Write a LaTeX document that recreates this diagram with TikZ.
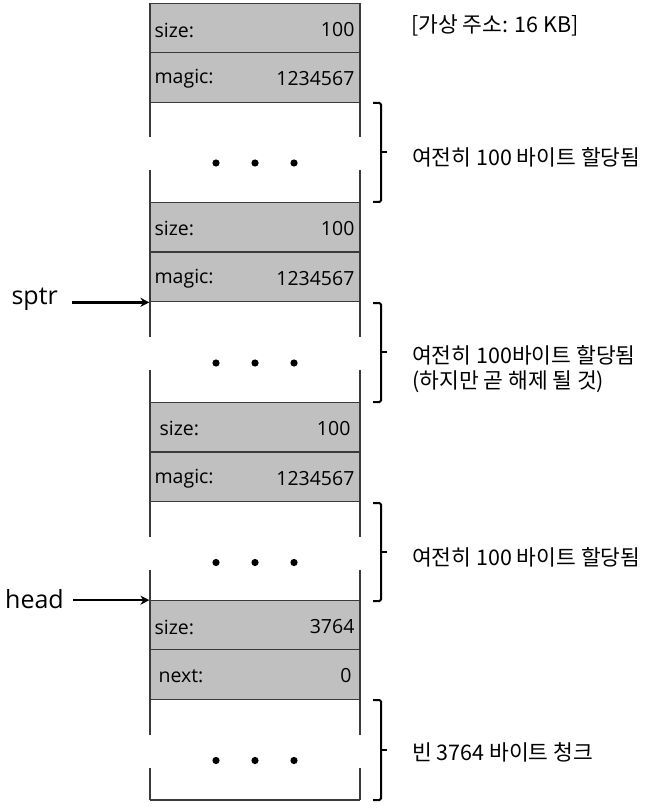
\documentclass[tikz,border=0pt]{standalone}
\usepackage{fontspec}
\setmainfont{Open Sans}
\newfontfamily\kofont{Noto Sans CJK KR}
\usetikzlibrary{positioning, arrows.meta}
\definecolor{cellgray}{HTML}{C0C0C0}
\definecolor{linegray}{HTML}{3A3A3A}

\begin{document}
\begin{tikzpicture}[
        x=1pt, y=-1pt,
        field/.style={rectangle, draw=linegray, line width=1.2pt, fill=cellgray, minimum width=210pt, minimum height=49.5pt, inner sep=0pt},
        key/.style={right, inner sep=0pt, yshift=-1.5pt, font=\fontsize{19.5}{22}\selectfont},
        val/.style={left, inner sep=0pt, yshift=-1.5pt, font=\fontsize{19.5}{22}\selectfont},
        note/.style={right, inner sep=0pt, align=left, font=\kofont\fontsize{21.5}{25}\selectfont},
        ptr/.style={left, inner sep=0pt, font=\fontsize{25}{28}\selectfont},
        arrow/.style={line width=2.6pt, -{Stealth[length=9pt, width=9pt]}},
        brace/.style={line width=2pt, rounded corners=1.5pt}
    ]
    \useasboundingbox (0,0) rectangle (651,810);

    % header of first chunk
    \node [field] (sz1) at (255,28.5) {};
    \node [key] (sz1k) at ([xshift=5pt]sz1.west) {size:};
    \node [val] (sz1v) at ([xshift=-6pt]sz1.east) {100};
    \node [field] (mg1) at (255,77.5) {};
    \node [key] (mg1k) at ([xshift=5pt]mg1.west) {magic:};
    \node [val] (mg1v) at ([xshift=-6pt]mg1.east) {1234567};

    % header of second chunk
    \node [field] (sz2) at (255,227) {};
    \node [key] (sz2k) at ([xshift=5pt]sz2.west) {size:};
    \node [val] (sz2v) at ([xshift=-6pt]sz2.east) {100};
    \node [field] (mg2) at (255,277) {};
    \node [key] (mg2k) at ([xshift=5pt]mg2.west) {magic:};
    \node [val] (mg2v) at ([xshift=-6pt]mg2.east) {1234567};

    % header of third chunk
    \node [field] (sz3) at (255,427) {};
    \node [key] (sz3k) at ([xshift=10pt]sz3.west) {size:};
    \node [val] (sz3v) at ([xshift=-10pt]sz3.east) {100};
    \node [field] (mg3) at (255,477) {};
    \node [key] (mg3k) at ([xshift=5pt]mg3.west) {magic:};
    \node [val] (mg3v) at ([xshift=-6pt]mg3.east) {1234567};

    % free chunk header
    \node [field] (sz4) at (255,625.5) {};
    \node [key] (sz4k) at ([xshift=5pt]sz4.west) {size:};
    \node [val] (sz4v) at ([xshift=-6pt]sz4.east) {3764};
    \node [field] (nx4) at (255,674.5) {};
    \node [key] (nx4k) at ([xshift=9pt]nx4.west) {next:};
    \node [val] (nx4v) at ([xshift=-9pt]nx4.east) {0};

    % bodies: side walls, dots and braces
    \foreach \t/\b in {102/202, 302/402, 502/601, 699/800} {
        \pgfmathsetmacro{\m}{(\t+\b)/2}
        \draw [linegray, line width=1.2pt] (150,\t) -- (150,\m-15) (150,\m+18) -- (150,\b);
        \draw [linegray, line width=1.2pt] (360,\t) -- (360,\m-15) (360,\m+18) -- (360,\b);
        \foreach \x in {216,255,294}
            \fill (\x,\m+11) circle (3.6pt);
        \draw [brace] (373,\t+1) -- (381,\t+1) -- (381,\b) -- (373,\b);
        \draw [line width=2pt] (381,\m) -- (387,\m);
    }
    \draw [linegray, line width=1.2pt] (150,800) -- (360,800);

    % notes
    \node [note] (addr) at (411,25) {[가상 주소: 16 KB]};
    \node [note] (n1) at (412,157) {여전히 100 바이트 할당됨};
    \node [note] (n2) at (412,369) {여전히 100바이트 할당됨\\(하지만 곧 해제 될 것)};
    \node [note] (n3) at (412,557) {여전히 100 바이트 할당됨};
    \node [note] (n4) at (412,752) {빈 3764 바이트 청크};

    % pointers
    \node [ptr] (sptr) at (58,299) {sptr};
    \node [ptr] (head) at (64,599) {head};
    \draw [arrow, shorten <=14pt] (sptr.east |- mg2.south) -- (mg2.south west);
    \draw [arrow, shorten <=9pt] (head.east |- sz4.north) -- (sz4.north west);

\end{tikzpicture}
\end{document}
